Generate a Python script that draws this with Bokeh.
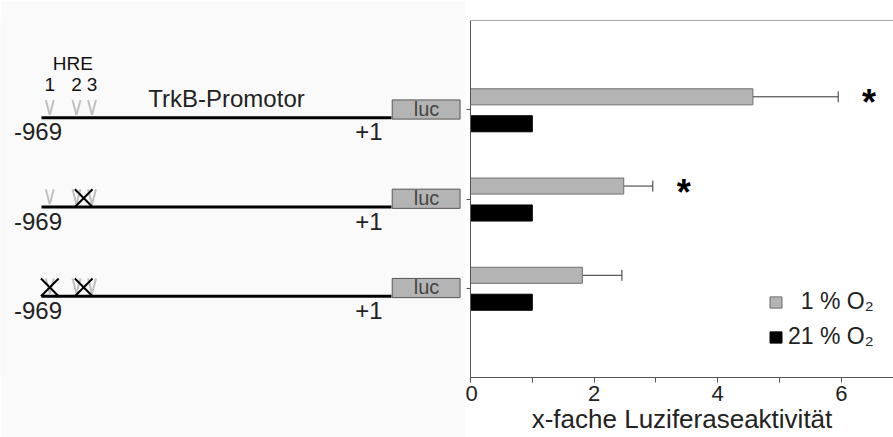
from bokeh.plotting import figure
from bokeh.layouts import row
from bokeh.models import (Range1d, FixedTicker, Whisker, TeeHead, ColumnDataSource,
                          Legend, LegendItem, Span)
from bokeh.core.properties import value
from bokeh.embed import file_html
from bokeh.resources import INLINE

# ---------------- data ----------------
constructs = ["wt", "mut HRE2/3", "mut HRE1/2/3"]
hypoxia = [4.57, 2.48, 1.81]          # 1 % O2
hypoxia_err = [1.38, 0.47, 0.64]
normoxia = [1.0, 1.0, 1.0]            # 21 % O2
significant = [True, True, False]
x_major_ticks = [0, 2, 4, 6]
x_minor_ticks = [1, 3, 5]

promoter_start = -969
promoter_end = 1
luc_len = 190
hre_pos = [-946, -872, -829]
hre_labels = ["1", "2", "3"]
mut_sites = [[], [-852], [-946, -852]]

FONT = "Liberation Sans"
ypos = [i + 1 for i in range(len(constructs))]
yr = Range1d(start=len(constructs) + 1, end=0)

# ---------------- right: bar chart ----------------
p = figure(width=428, height=437, x_range=Range1d(0, 6.845), y_range=yr,
           output_backend="svg", toolbar_location=None,
           min_border_left=5, min_border_right=0, min_border_top=20, min_border_bottom=60)
p.grid.visible = False
p.outline_line_color = None
p.background_fill_color = "white"
p.border_fill_color = "white"

BH = 0.18
gray_y = [y - 0.145 for y in ypos]
black_y = [y + 0.157 for y in ypos]
upper = [h + e for h, e in zip(hypoxia, hypoxia_err)]
src_h = ColumnDataSource(dict(y=gray_y, v=hypoxia, up=upper))
src_n = ColumnDataSource(dict(y=black_y, v=normoxia))

r1 = p.hbar(y="y", left=0, right="v", height=BH, source=src_h,
            fill_color="#b4b4b4", line_color="#707070", line_width=1)
r2 = p.hbar(y="y", left=0, right="v", height=BH, source=src_n,
            fill_color="black", line_color="black", line_width=1)

w = Whisker(base="y", lower="v", upper="up", dimension="width", source=src_h,
            line_color="#333333", line_width=1, lower_head=None,
            upper_head=TeeHead(size=11, line_color="#333333", line_width=1))
p.add_layout(w)

ast_x = [u + 0.5 for u, s in zip(upper, significant) if s]
ast_y = [g for g, s in zip(gray_y, significant) if s]
p.text(x=ast_x, y=ast_y, text=["*"] * len(ast_x), text_font=value(FONT),
       text_font_style="bold", text_font_size="36px", text_align="center",
       text_baseline="middle", y_offset=6, text_color="black")

p.add_layout(Span(location=0, dimension="width", line_color="#555555", line_width=1))

ax = p.xaxis[0]
ax.ticker = FixedTicker(ticks=x_major_ticks, minor_ticks=x_minor_ticks)
ax.major_tick_in = 0
ax.major_tick_out = 5
ax.minor_tick_in = 0
ax.minor_tick_out = 5
ax.axis_line_color = "#555555"
ax.major_tick_line_color = "#555555"
ax.minor_tick_line_color = "#555555"
ax.major_label_text_font = FONT
ax.major_label_text_font_size = "22px"
ax.major_label_text_color = "#222222"
ax.major_label_standoff = 3
ax.axis_label = "x-fache Luziferaseaktivität"
ax.axis_label_text_font = FONT
ax.axis_label_text_font_size = "26px"
ax.axis_label_text_font_style = "normal"
ax.axis_label_text_color = "#222222"
ax.axis_label_standoff = 0

ay = p.yaxis[0]
ay.ticker = FixedTicker(ticks=[], minor_ticks=ypos)
ay.major_tick_line_color = None
ay.minor_tick_in = 0
ay.minor_tick_out = 4
ay.minor_tick_line_color = "#555555"
ay.major_label_standoff = 0
ay.axis_line_color = "#555555"

legend = Legend(items=[LegendItem(label="\u20071 % O\u2082", renderers=[r1]),
                       LegendItem(label="21 % O\u2082", renderers=[r2])],
                location=(298, 27), orientation="vertical",
                label_text_font=FONT, label_text_font_size="23px", label_text_color="#222222",
                glyph_width=15, glyph_height=14, label_standoff=5, label_height=22,
                spacing=8, padding=0, margin=0, border_line_color=None,
                background_fill_alpha=0)
p.add_layout(legend)

# ---------------- left: promoter constructs ----------------
q = figure(width=465, height=437, x_range=Range1d(-1082.6, 206.1), y_range=yr,
           output_backend="svg", toolbar_location=None,
           x_axis_location=None, y_axis_location=None,
           min_border_left=0, min_border_right=0, min_border_top=20, min_border_bottom=60)
q.grid.visible = False
q.outline_line_color = None
q.background_fill_color = "#fafafa"
q.border_fill_color = "#fafafa"

TY = -9  # baseline correction in px
line_y = [y + 0.09 for y in ypos]
n = len(ypos)
q.segment(x0=[promoter_start] * n, x1=[promoter_end] * n, y0=line_y, y1=line_y,
          line_color="black", line_width=3)
q.quad(left=[promoter_end + 2] * n, right=[promoter_end + luc_len] * n,
       top=[y - 0.11 for y in ypos], bottom=[y + 0.105 for y in ypos],
       fill_color="#b4b4b4", line_color="#555555", line_width=1)
q.text(x=[promoter_end + luc_len / 2 + 2] * n, y=ypos, text=["luc"] * n,
       text_font=value(FONT), text_font_size="20px", text_color="#444444",
       text_align="center", text_baseline="middle", y_offset=-1)

q.text(x=[promoter_start] * n, y=[ly + 0.258 for ly in line_y], text=[str(promoter_start)] * n,
       text_font=value(FONT), text_font_size="24px", text_color="#222222",
       text_align="center", text_baseline="alphabetic", x_offset=-3.5, y_offset=TY)
q.text(x=[promoter_end] * n, y=[ly + 0.258 for ly in line_y], text=["+%d" % promoter_end] * n,
       text_font=value(FONT), text_font_size="24px", text_color="#222222",
       text_align="right", text_baseline="alphabetic", x_offset=-9, y_offset=TY)

q.text(x=[(promoter_start + promoter_end) / 2], y=[ypos[0] - 0.029], text=["TrkB-Promotor"],
       text_font=value(FONT), text_font_size="24px", text_color="#222222",
       text_align="center", text_baseline="alphabetic", x_offset=10, y_offset=TY)
q.text(x=[sum(hre_pos) / len(hre_pos)], y=[ypos[0] - 0.448], text=["HRE"],
       text_font=value(FONT), text_font_size="19px", text_color="#111111",
       text_align="center", text_baseline="alphabetic", y_offset=TY + 3)
q.text(x=hre_pos, y=[ypos[0] - 0.216] * len(hre_pos), text=hre_labels,
       text_font=value(FONT), text_font_size="19px", text_color="#111111",
       text_align="center", text_baseline="alphabetic", y_offset=TY + 3)

vx0, vy0, vx1, vy1 = [], [], [], []
for ly in line_y:
    for h in hre_pos:
        vx0 += [h - 11, h]
        vy0 += [ly - 0.198, ly - 0.03]
        vx1 += [h, h + 11]
        vy1 += [ly - 0.03, ly - 0.198]
q.segment(x0=vx0, y0=vy0, x1=vx1, y1=vy1, line_color="#c0c0c0", line_width=2)

mx, my = [], []
for ly, sites in zip(line_y, mut_sites):
    for s in sites:
        mx.append(s)
        my.append(ly - 0.1)
q.scatter(x=mx, y=my, marker="x", size=25, line_width=2, line_color="black")

layout = row(q, p)
open("out.html", "w").write(file_html(layout, INLINE))
